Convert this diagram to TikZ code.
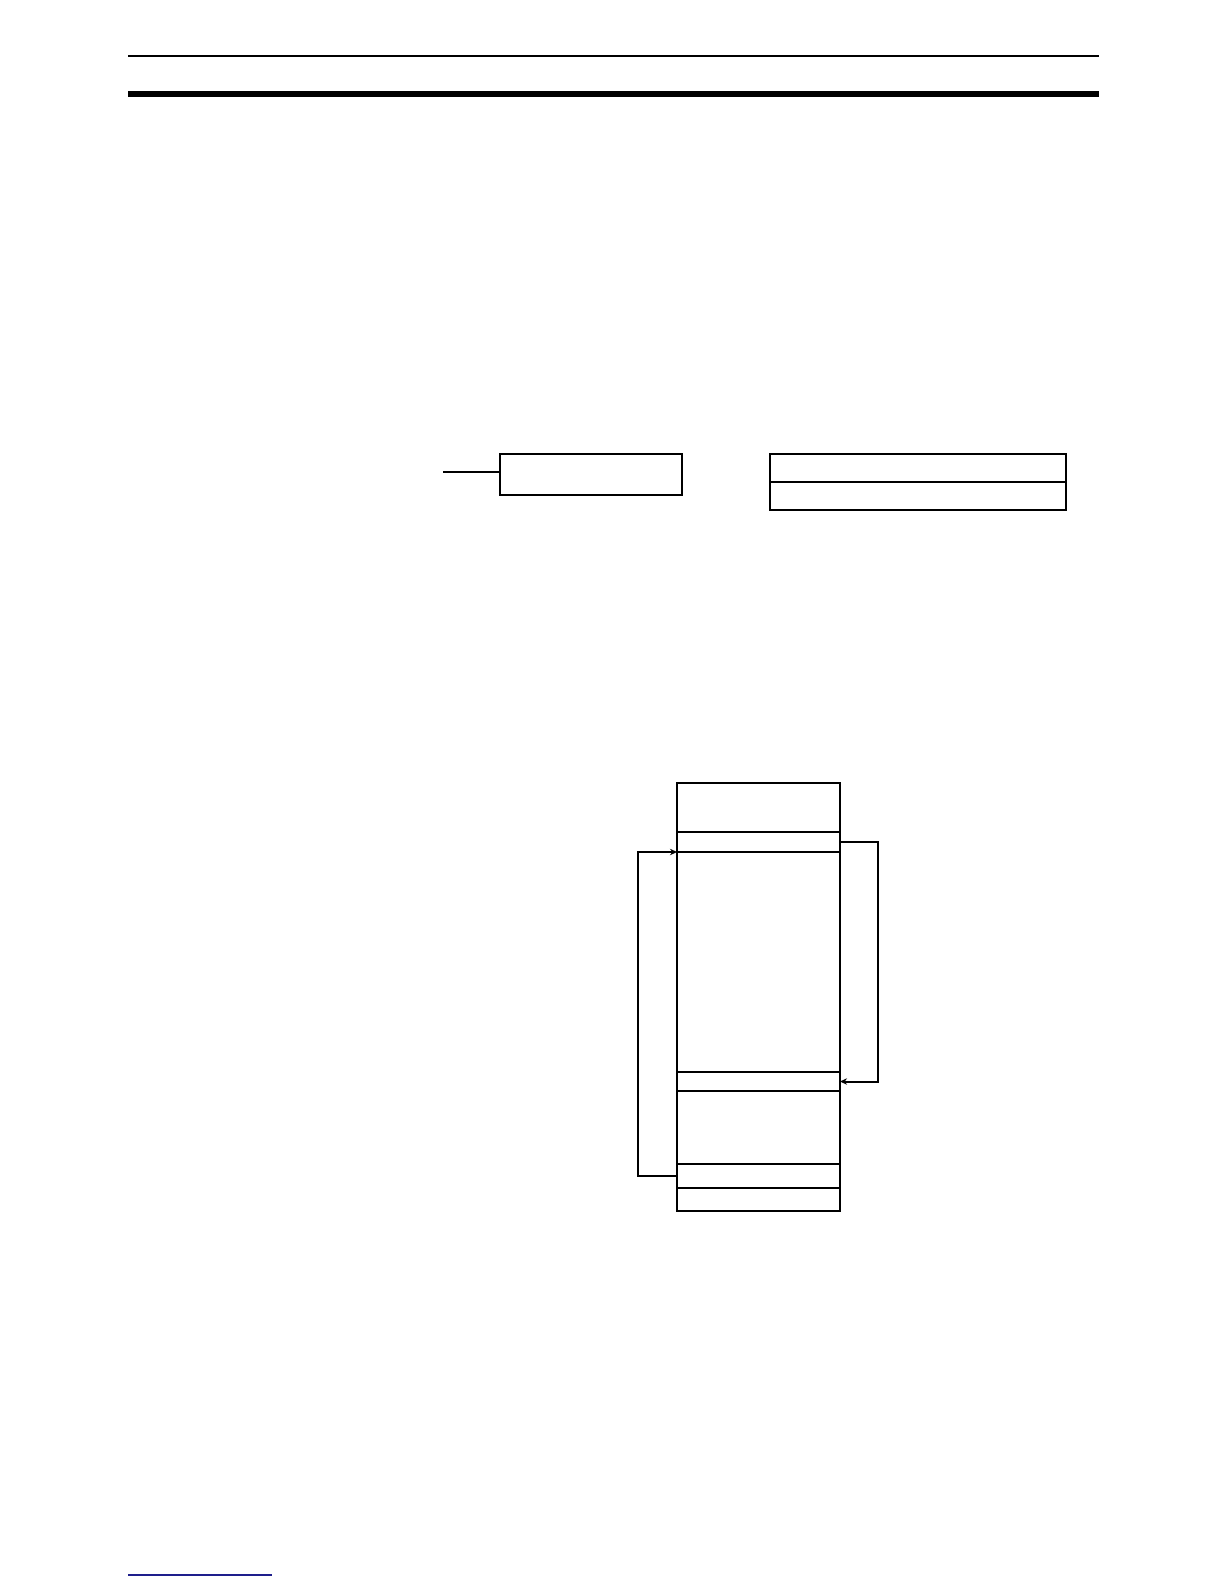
\documentclass[tikz,border=0pt]{standalone}
\usetikzlibrary{arrows.meta,positioning}

\begin{document}
\begin{tikzpicture}[
    x=0.5pt,y=-0.5pt,
    >={Stealth[length=3.5pt,width=3.2pt]},
    cell/.style={draw,line width=1pt,inner sep=0pt,outer sep=0pt,minimum width=81.5pt},
    box/.style={draw,line width=1pt,inner sep=0pt,outer sep=0pt},
    link/.style={line width=1pt}]
    \useasboundingbox (0,0) rectangle (1224,1584);

    % page rules
    \draw[line width=0.7pt] (128,56) -- (1099,56);
    \fill (128,91) rectangle (1099,97);
    \draw[line width=0.8pt,color={rgb,255:red,30;green,30;blue,140}] (128,1575) -- (272,1575);

    % upper boxes
    \node[box,minimum width=91pt,minimum height=20.5pt,anchor=north west] (inbox) at (500,454) {};
    \coordinate (lead) at (443,472);
    \draw[link] (lead) -- (lead -| inbox.west);
    \node[box,minimum width=148pt,minimum height=14pt,anchor=north west] (word1) at (770,454) {};
    \node[box,minimum width=148pt,minimum height=14pt] (word2) [below=0pt of word1] {};

    % memory stack
    \node[cell,minimum height=24.5pt,anchor=north west] (c1) at (677,783) {};
    \node[cell,minimum height=10pt] (c2) [below=0pt of c1] {};
    \node[cell,minimum height=110pt] (c3) [below=0pt of c2] {};
    \node[cell,minimum height=9.5pt] (c4) [below=0pt of c3] {};
    \node[cell,minimum height=36.5pt] (c5) [below=0pt of c4] {};
    \node[cell,minimum height=12pt] (c6) [below=0pt of c5] {};
    \node[cell,minimum height=11.5pt] (c7) [below=0pt of c6] {};

    \coordinate (lbend) at (638,0);
    \coordinate (rbend) at (878,0);
    \draw[link,->] (c6.west) -- (c6.west -| lbend) |- (c3.north west);
    \draw[link,->] (c2.east) -- (c2.east -| rbend) |- (c4.east);
  \end{tikzpicture}
\end{document}
